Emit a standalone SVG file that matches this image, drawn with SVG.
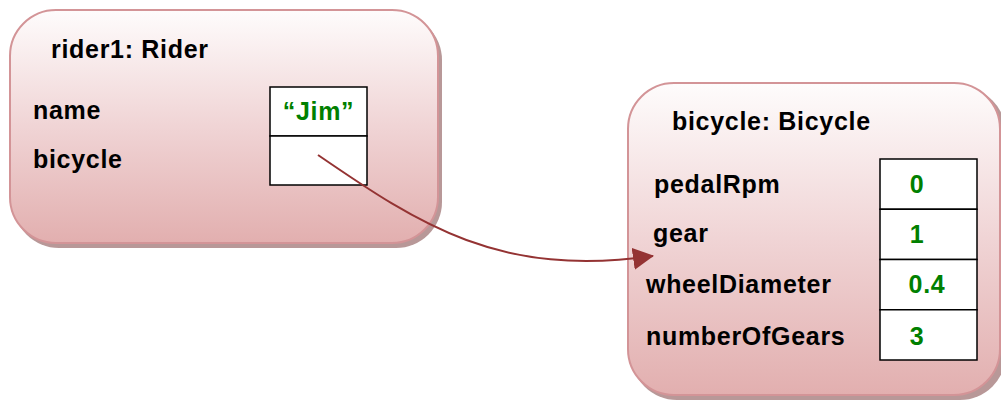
<svg xmlns="http://www.w3.org/2000/svg" width="1001" height="401" viewBox="0 0 1001 401">
<defs>
<linearGradient id="g" x1="0" y1="0" x2="0" y2="1">
<stop offset="0" stop-color="#fefcfc"/>
<stop offset="0.5" stop-color="#f0d4d5"/>
<stop offset="1" stop-color="#e2afaf"/>
</linearGradient>
<marker id="ah" markerWidth="21" markerHeight="22" refX="20" refY="11" orient="auto" markerUnits="userSpaceOnUse" viewBox="0 0 21 22">
<path d="M0,0 L21,11 L0,22 z" fill="#943333"/>
</marker>
</defs>
<style>
.box{fill:url(#g);stroke:#d39497;stroke-width:2}
.shadow{fill:#b89898}
.cell{fill:#fff;stroke:#000;stroke-width:1.5}
.lbl{font-family:"Liberation Sans",Arial,sans-serif;font-weight:bold;font-size:25px;letter-spacing:0.7px;fill:#000}
.val{font-family:"Liberation Sans",Arial,sans-serif;font-weight:bold;font-size:25px;letter-spacing:0.7px;fill:#008000}
</style>
<g id="rider1">
<rect class="shadow" x="13" y="14" width="429" height="234" rx="46"/>
<rect class="box" x="10" y="10" width="428" height="233" rx="46"/>
<text class="lbl" x="51" y="58">rider1: Rider</text>
<text class="lbl" x="33" y="119">name</text>
<text class="lbl" x="33" y="168">bicycle</text>
<rect class="cell" x="270" y="87" width="97" height="49"/>
<rect class="cell" x="270" y="136" width="97" height="49"/>
<text class="val" x="318.5" y="120" text-anchor="middle">“Jim”</text>
</g>
<g id="bicycle">
<rect class="shadow" x="631" y="87" width="375" height="313" rx="46"/>
<rect class="box" x="628" y="83" width="372" height="312" rx="46"/>
<text class="lbl" x="672" y="130">bicycle: Bicycle</text>
<text class="lbl" x="654" y="193">pedalRpm</text>
<text class="lbl" x="653" y="242">gear</text>
<text class="lbl" x="646" y="293">wheelDiameter</text>
<text class="lbl" x="646" y="345">numberOfGears</text>
<rect class="cell" x="880" y="159" width="97" height="50.25"/>
<rect class="cell" x="880" y="209.25" width="97" height="50.25"/>
<rect class="cell" x="880" y="259.5" width="97" height="50.25"/>
<rect class="cell" x="880" y="309.75" width="97" height="50.25"/>
<text class="val" x="917" y="193" text-anchor="middle">0</text>
<text class="val" x="917" y="243" text-anchor="middle">1</text>
<text class="val" x="927" y="293" text-anchor="middle">0.4</text>
<text class="val" x="917" y="345" text-anchor="middle">3</text>
</g>
<g id="connectors">
<path d="M318,155 C420,225 500,278 653,256" fill="none" stroke="#943333" stroke-width="2" marker-end="url(#ah)"/>
</g>
</svg>
